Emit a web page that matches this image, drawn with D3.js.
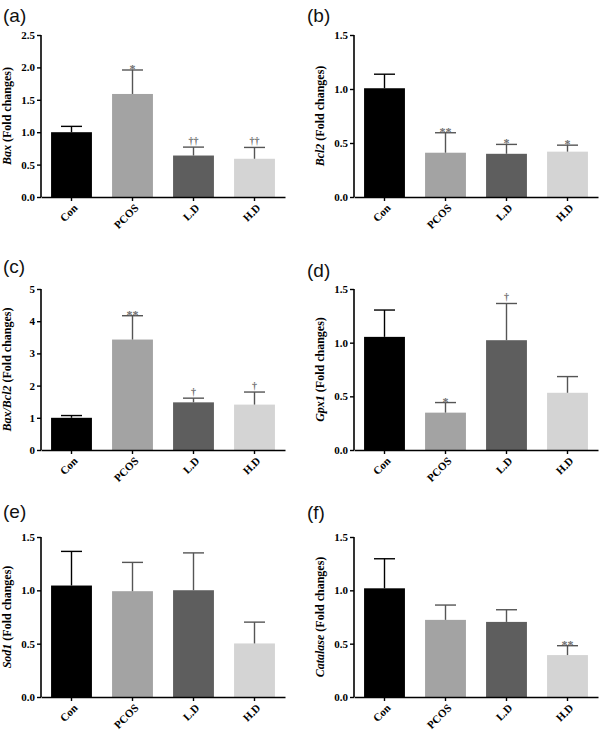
<!DOCTYPE html>
<html>
<head>
<meta charset="utf-8">
<script src="https://cdn.jsdelivr.net/npm/d3@7"></script>
<style>
  body { margin: 0; background: #fff; }
  svg { display: block; }
  .serif { font-family: "Liberation Serif", "Times New Roman", Times, serif; font-weight: bold; }
  .tag { font-family: "Liberation Sans", Arial, sans-serif; }
</style>
</head>
<body>
<div id="chart"></div>
<script>
// Data (mean and SEM for each group)
var groups = ["Con", "PCOS", "L.D", "H.D"];

var baxMean = [1.00, 1.59, 0.64, 0.59];
var baxSem = [0.09, 0.37, 0.13, 0.175];
var baxSig = ["", "*", "††", "††"];

var bcl2Mean = [1.007, 0.41, 0.40, 0.42];
var bcl2Sem = [0.13, 0.185, 0.087, 0.06];
var bcl2Sig = ["", "**", "*", "*"];

var ratioMean = [1.00, 3.43, 1.48, 1.41];
var ratioSem = [0.07, 0.74, 0.13, 0.39];
var ratioSig = ["", "**", "†", "†"];

var gpx1Mean = [1.054, 0.348, 1.023, 0.533];
var gpx1Sem = [0.25, 0.094, 0.342, 0.151];
var gpx1Sig = ["", "*", "†", ""];

var sod1Mean = [1.045, 0.992, 1.001, 0.502];
var sod1Sem = [0.32, 0.27, 0.35, 0.20];
var sod1Sig = ["", "", "", ""];

var catMean = [1.019, 0.723, 0.704, 0.393];
var catSem = [0.277, 0.139, 0.114, 0.088];
var catSig = ["", "", "", "**"];

var barColors = ["#000000", "#a3a3a3", "#5e5e5e", "#d4d4d4"];
var errColors = ["#000000", "#555555", "#555555", "#555555"];

// Panel layout
var svgWidth = 600;
var svgHeight = 737;
var plotWidth = 244;
var colX = [41, 354];
var rowTop = [35, 289, 537];
var rowBottom = [197, 450, 697];

var panels = [
  {tag: "(a)", gene: "Bax", mean: baxMean, sem: baxSem, sig: baxSig, max: 2.5, step: 0.5, fmt: ".1f", col: 0, row: 0, tx: 3, ty: 22},
  {tag: "(b)", gene: "Bcl2", mean: bcl2Mean, sem: bcl2Sem, sig: bcl2Sig, max: 1.5, step: 0.5, fmt: ".1f", col: 1, row: 0, tx: 307, ty: 22},
  {tag: "(c)", gene: "Bax/Bcl2", mean: ratioMean, sem: ratioSem, sig: ratioSig, max: 5, step: 1, fmt: "d", col: 0, row: 1, tx: 3, ty: 273},
  {tag: "(d)", gene: "Gpx1", mean: gpx1Mean, sem: gpx1Sem, sig: gpx1Sig, max: 1.5, step: 0.5, fmt: ".1f", col: 1, row: 1, tx: 307, ty: 277},
  {tag: "(e)", gene: "Sod1", mean: sod1Mean, sem: sod1Sem, sig: sod1Sig, max: 1.5, step: 0.5, fmt: ".1f", col: 0, row: 2, tx: 3, ty: 518},
  {tag: "(f)", gene: "Catalase", mean: catMean, sem: catSem, sig: catSig, max: 1.5, step: 0.5, fmt: ".1f", col: 1, row: 2, tx: 307, ty: 519}
];

var svg = d3.select("#chart")
  .append("svg")
  .attr("width", svgWidth)
  .attr("height", svgHeight);

panels.forEach(function(p) {
  var left = colX[p.col];
  var top = rowTop[p.row];
  var height = rowBottom[p.row] - top;

  // panel letter
  svg.append("text")
    .attr("class", "tag")
    .attr("x", p.tx)
    .attr("y", p.ty)
    .style("font-size", "19px")
    .attr("fill", "#111")
    .text(p.tag);

  var g = svg.append("g")
    .attr("transform", `translate(${left}, ${top})`);

  var x = d3.scaleBand()
    .domain(groups)
    .range([0, plotWidth])
    .paddingInner(0.33)
    .paddingOuter(0.165);

  var y = d3.scaleLinear()
    .domain([0, p.max])
    .range([height, 0]);

  var rows = groups.map(function(name, i) {
    return {name: name, mean: p.mean[i], sem: p.sem[i], sig: p.sig[i], i: i};
  });

  // bars
  g.selectAll("rect.bar")
    .data(rows)
    .enter()
    .append("rect")
    .attr("class", "bar")
    .attr("x", d => x(d.name))
    .attr("y", d => y(d.mean))
    .attr("width", x.bandwidth())
    .attr("height", d => height - y(d.mean))
    .attr("fill", d => barColors[d.i]);

  // error bars (upper only)
  g.selectAll("line.err")
    .data(rows)
    .enter()
    .append("line")
    .attr("class", "err")
    .attr("x1", d => x(d.name) + x.bandwidth() / 2)
    .attr("x2", d => x(d.name) + x.bandwidth() / 2)
    .attr("y1", d => y(d.mean))
    .attr("y2", d => y(d.mean + d.sem))
    .attr("stroke", d => errColors[d.i])
    .attr("stroke-width", 1.4);

  g.selectAll("line.cap")
    .data(rows)
    .enter()
    .append("line")
    .attr("class", "cap")
    .attr("x1", d => x(d.name) + x.bandwidth() / 2 - 10.5)
    .attr("x2", d => x(d.name) + x.bandwidth() / 2 + 10.5)
    .attr("y1", d => y(d.mean + d.sem))
    .attr("y2", d => y(d.mean + d.sem))
    .attr("stroke", d => errColors[d.i])
    .attr("stroke-width", 1.4);

  // significance marks
  g.selectAll("text.sig")
    .data(rows.filter(d => d.sig !== ""))
    .enter()
    .append("text")
    .attr("class", "sig serif")
    .attr("x", d => x(d.name) + x.bandwidth() / 2)
    .attr("y", d => y(d.mean + d.sem) + (d.sig.indexOf("*") >= 0 ? 3 : -3))
    .attr("text-anchor", "middle")
    .style("font-size", d => (d.sig.indexOf("*") >= 0 ? 12 : 10) + "px")
    .attr("fill", "#6e6e6e")
    .text(d => d.sig);

  // axes
  var leftAxis = d3.axisLeft(y)
    .tickValues(d3.range(0, p.max + p.step / 2, p.step))
    .tickFormat(d3.format(p.fmt))
    .tickSize(4)
    .tickPadding(2);

  var bottomAxis = d3.axisBottom(x)
    .tickSize(4)
    .tickSizeOuter(0);

  var yAxis = g.append("g").call(leftAxis);
  yAxis.select(".domain").attr("d", `M0,${height}V0`);

  var xAxis = g.append("g")
    .attr("transform", `translate(0, ${height})`)
    .call(bottomAxis);

  [yAxis, xAxis].forEach(function(ax) {
    ax.attr("font-family", null).attr("font-size", null);
    ax.select(".domain").attr("stroke", "#000").attr("stroke-width", 1.6);
    ax.selectAll(".tick line").attr("stroke", "#000").attr("stroke-width", 1.4);
    ax.selectAll(".tick text")
      .attr("class", "serif")
      .style("font-size", "11px")
      .attr("fill", "#000");
  });

  // group names turned 45 degrees, ending just under each tick
  xAxis.selectAll(".tick text")
    .attr("text-anchor", "end")
    .attr("y", 0)
    .attr("dy", "0.35em")
    .attr("transform", "translate(4, 9) rotate(-45)");

  // y axis label: italic gene name + (Fold changes)
  var label = g.append("text")
    .attr("class", "serif")
    .attr("transform", `translate(-30, ${height / 2}) rotate(-90)`)
    .attr("text-anchor", "middle")
    .style("font-size", "12px")
    .attr("fill", "#000");
  label.append("tspan").style("font-style", "italic").text(p.gene);
  label.append("tspan").text(" (Fold changes)");
});
</script>
</body>
</html>
